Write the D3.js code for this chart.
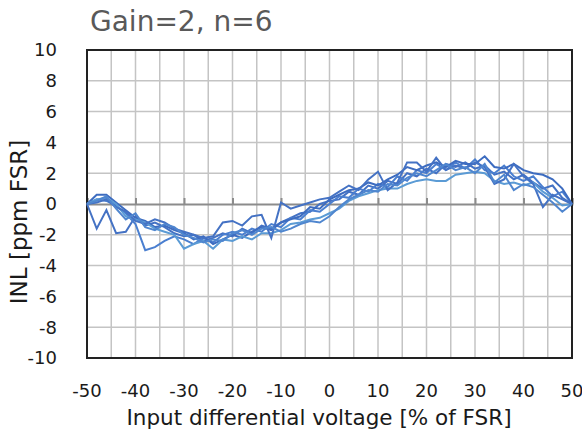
<!DOCTYPE html>
<html>
<head>
<meta charset="utf-8">
<script src="https://cdn.jsdelivr.net/npm/d3@7"></script>
<style>
  body { margin: 0; background: #fff; }
  text { font-family: "DejaVu Sans", Verdana, sans-serif; }
</style>
</head>
<body>
<div id="chart"></div>
<script>
// x positions (% of FSR), one point every 2%
var xValues = d3.range(-50, 51, 2);

var xTicks = [-50, -40, -30, -20, -10, 0, 10, 20, 30, 40, 50];
var yTicks = [-10, -8, -6, -4, -2, 0, 2, 4, 6, 8, 10];

// INL readings for the 6 parts [ppm FSR]
var inl1 = [0, -1.6, -0.4, -1.9, -1.8, -0.8, -1.4, -1.2, -1.5, -1.9, -2.1, -2.0, -2.4, -2.2, -1.9, -2.1, -1.6, -1.9, -1.4, -1.6, -1.2, -0.9, -0.6, -0.5, 0.0, 0.2, 0.3, 0.8, 0.6, 1.2, 1.0, 1.5, 1.3, 2.0, 1.8, 2.3, 2.0, 2.6, 2.4, 2.7, 2.3, 2.5, 1.9, 2.1, 1.6, 1.9, 1.4, 1.0, 1.2, 0.4, 0];
var inl2 = [0, 0.3, 0.2, -0.1, -0.6, -1.3, -3.0, -2.8, -2.4, -2.1, -2.3, -2.6, -2.2, -2.5, -2.0, -1.8, -2.0, -1.6, -1.8, -1.3, -1.5, -0.9, -1.0, -0.4, -0.5, 0.0, 0.5, 0.4, 1.0, 0.8, 1.3, 1.1, 1.8, 1.5, 2.2, 2.0, 2.6, 2.2, 2.7, 2.3, 2.9, 2.2, 2.0, 2.5, 1.8, 1.5, 1.8, 1.1, 0.5, 0.8, 0];
var inl3 = [0, 0.6, 0.6, 0.1, -0.4, -0.9, -1.1, -1.5, -1.4, -1.7, -1.9, -2.3, -2.1, -2.6, -2.3, -2.0, -2.2, -1.8, -1.5, -1.7, -1.2, -1.0, -0.8, -0.2, -0.3, 0.3, 0.6, 0.9, 1.0, 1.4, 1.2, 1.6, 1.9, 2.4, 2.2, 2.5, 2.7, 2.4, 2.8, 2.6, 2.6, 3.1, 2.4, 2.3, 2.6, 2.2, 2.0, 1.9, 1.6, 1.0, 0];
var inl4 = [0, 0.3, 0.4, 0.0, -0.8, -1.0, -1.2, -1.6, -1.8, -2.0, -2.9, -2.6, -2.4, -2.9, -2.3, -2.4, -2.1, -2.3, -1.9, -1.9, -1.7, -1.3, -1.2, -1.0, -0.9, -0.6, -0.3, 0.2, 0.5, 0.7, 0.9, 1.0, 1.0, 1.3, 1.5, 1.6, 1.5, 1.5, 1.9, 2.0, 2.1, 2.0, 1.5, 1.3, 1.4, 1.2, 1.4, 0.8, 0.4, -0.1, 0];
var inl5 = [0, 0.1, 0.3, -0.2, -0.5, -1.1, -1.3, -1.0, -1.2, -1.6, -1.8, -2.0, -2.2, -2.1, -1.2, -1.1, -1.4, -0.8, -0.7, -2.2, 0.1, -0.3, -0.1, 0.1, 0.3, 0.4, 0.8, 1.2, 0.9, 1.6, 2.1, 0.9, 1.4, 2.7, 2.7, 2.1, 3.0, 2.2, 2.5, 2.3, 2.7, 2.4, 1.3, 1.6, 2.6, 1.8, 1.3, -0.2, 0.6, 0.3, 0];
var inl6 = [0, 0.2, 0.5, -0.3, -1.0, -0.6, -1.5, -1.7, -1.3, -1.5, -2.0, -2.2, -2.5, -2.3, -2.4, -1.9, -1.7, -2.0, -1.6, -1.5, -1.8, -1.6, -1.3, -1.1, -1.2, -0.8, -0.2, 0.3, 0.6, 0.9, 0.8, 1.3, 1.2, 1.7, 2.0, 1.8, 2.2, 2.6, 2.2, 2.4, 2.0, 2.6, 1.4, 1.9, 0.9, 1.3, 1.1, 0.6, 0.1, -0.5, 0];

var allSeries = [inl1, inl2, inl3, inl4, inl5, inl6];
var lineColors = ["#4472c4", "#4a7fd0", "#3d6cc0", "#5b9bd5", "#4472c4", "#4f86cf"];

var margin = {top: 50, right: 10, bottom: 74, left: 87},
    width = 582 - margin.left - margin.right,
    height = 432 - margin.top - margin.bottom;

var svg = d3.select("#chart")
  .append("svg")
    .attr("width", 582)
    .attr("height", 432);

var g = svg.append("g")
    .attr("transform", "translate(" + margin.left + "," + margin.top + ")");

var x = d3.scaleLinear().domain([-50, 50]).range([0, width]);
var y = d3.scaleLinear().domain([-10, 10]).range([height, 0]);

// grid: every 5% across, every 2 ppm up
g.append("g")
  .selectAll("line")
  .data(d3.range(-45, 50, 5))
  .enter().append("line")
    .attr("x1", function(d) { return x(d); })
    .attr("x2", function(d) { return x(d); })
    .attr("y1", 0)
    .attr("y2", height)
    .attr("stroke", "#c4c4c4")
    .attr("stroke-width", 1.5);

g.append("g")
  .selectAll("line")
  .data(yTicks.filter(function(d) { return d !== 0 && Math.abs(d) !== 10; }))
  .enter().append("line")
    .attr("x1", 0)
    .attr("x2", width)
    .attr("y1", function(d) { return y(d); })
    .attr("y2", function(d) { return y(d); })
    .attr("stroke", "#c4c4c4")
    .attr("stroke-width", 1.5);

// zero axis with small ticks pointing up
var xAxis = g.append("g")
    .attr("transform", "translate(0," + y(0) + ")")
    .call(d3.axisTop(x).tickValues(xTicks).tickSize(6).tickFormat(""));
xAxis.select(".domain").attr("stroke", "#8c8c8c").attr("stroke-width", 2);
xAxis.selectAll(".tick line").attr("stroke", "#8c8c8c").attr("stroke-width", 2);

// frame
g.append("rect")
    .attr("width", width)
    .attr("height", height)
    .attr("fill", "none")
    .attr("stroke", "#222")
    .attr("stroke-width", 2);

var line = d3.line()
    .x(function(d) { return x(d[0]); })
    .y(function(d) { return y(d[1]); });

g.append("g")
  .selectAll("path")
  .data(allSeries)
  .enter().append("path")
    .attr("d", function(s) { return line(d3.zip(xValues, s)); })
    .attr("fill", "none")
    .attr("stroke", function(s, i) { return lineColors[i]; })
    .attr("stroke-width", 2)
    .attr("stroke-linejoin", "miter");

// tick labels
g.append("g")
  .selectAll("text")
  .data(yTicks)
  .enter().append("text")
    .attr("x", -30)
    .attr("y", function(d) { return y(d); })
    .attr("dy", "0.35em")
    .attr("text-anchor", "end")
    .attr("font-size", 18)
    .attr("fill", "#1a1a1a")
    .text(function(d) { return d; });

g.append("g")
  .selectAll("text")
  .data(xTicks)
  .enter().append("text")
    .attr("x", function(d) { return x(d); })
    .attr("y", height + 39)
    .attr("text-anchor", "middle")
    .attr("font-size", 18)
    .attr("fill", "#1a1a1a")
    .text(function(d) { return d; });

// titles
svg.append("text")
    .attr("x", 90)
    .attr("y", 31)
    .attr("font-size", 28)
    .attr("fill", "#595959")
    .text("Gain=2, n=6");

svg.append("text")
    .attr("x", 319)
    .attr("y", 425)
    .attr("text-anchor", "middle")
    .attr("font-size", 21.5)
    .attr("fill", "#1a1a1a")
    .text("Input differential voltage [% of FSR]");

svg.append("text")
    .attr("transform", "translate(27,222) rotate(-90)")
    .attr("text-anchor", "middle")
    .attr("font-size", 23)
    .attr("fill", "#1a1a1a")
    .text("INL [ppm FSR]");
</script>
</body>
</html>
